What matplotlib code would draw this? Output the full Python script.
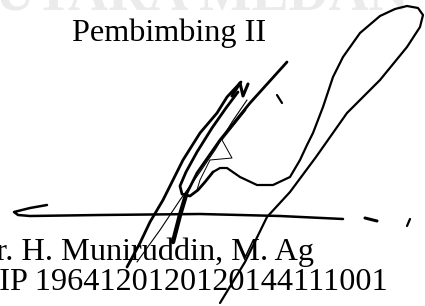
import matplotlib
matplotlib.use("Agg")
import matplotlib.pyplot as plt
import numpy as np

# ---- text content ----
title_text = "Pembimbing II"
name_text = "Dr. H. Muniruddin, M. Ag"
nip_text = "NIP 1964120120120144111001"
watermark_text = "UTARA MEDAN"

# ---- signature strokes (image pixel coordinates, y downward) ----
loop_x = [213, 220, 227, 240, 257, 273, 290, 300, 307, 313, 323, 333, 343, 360, 380, 395, 407, 418, 423, 420, 407, 380, 347, 316, 290, 267, 245, 220]
loop_y = [172, 168, 168, 177, 185, 185, 177, 160, 145, 133, 107, 77, 57, 33, 16, 9, 6, 8, 15, 27, 47, 80, 113, 157, 192, 217, 262, 303]

lineA_x = [287, 250, 220, 197, 186, 180, 173]
lineA_y = [62, 103, 140, 173, 195, 215, 242]

lineB_x = [241, 227, 217, 200, 183, 163, 150, 140, 127]
lineB_y = [82, 97, 113, 133, 160, 200, 222, 243, 267]

innerloop_x = [238, 226, 212, 197, 186, 180, 182, 190, 198, 205, 213]
innerloop_y = [92, 108, 128, 152, 172, 186, 194, 196, 190, 182, 172]

thin_x = [247, 232, 215, 200, 180, 160, 137]
thin_y = [100, 122, 150, 172, 200, 230, 262]

zig_x = [246, 222, 232, 210, 200, 197]
zig_y = [110, 140, 158, 160, 180, 190]

nglyph_x = [232, 240, 243, 248]
nglyph_y = [96, 83, 96, 84]

hline_x = [47, 30, 14, 18, 30, 100, 200, 280, 343]
hline_y = [205, 208, 212, 215, 216, 215, 214, 216, 219]

dash1_x = [365, 377]
dash1_y = [218, 221]
dash2_x = [410, 407]
dash2_y = [219, 226]
tick_x = [277, 282]
tick_y = [95, 103]

fig = plt.figure(figsize=(4.25, 3.06), dpi=100)
ax = fig.add_axes([0, 0, 1, 1])
ax.set_xlim(0, 425)
ax.set_ylim(306, 0)
ax.axis("off")

serif = ["Liberation Serif", "DejaVu Serif"]

# watermark (only its bottom edge shows at the top of the picture)
ax.text(-5, 9, watermark_text, fontsize=40, fontweight="bold", family=serif,
        color="#ebebeb", ha="left", va="baseline", zorder=0)

fs = 23.2
ax.text(72, 41, title_text, fontsize=fs, family=serif, color="black",
        ha="left", va="baseline", zorder=2)
ax.text(314, 260, name_text, fontsize=fs, family=serif, color="black",
        ha="right", va="baseline", zorder=2)
ax.text(388, 290, nip_text, fontsize=fs, family=serif, color="black",
        ha="right", va="baseline", zorder=2)

kw = dict(color="black", solid_capstyle="round", solid_joinstyle="round", zorder=3)
ax.plot(loop_x, loop_y, lw=1.6, **kw)
ax.plot(lineA_x, lineA_y, lw=2.0, **kw)
ax.plot(lineA_x[-3:], lineA_y[-3:], lw=3.2, **kw)
ax.plot(lineB_x, lineB_y, lw=2.0, **kw)
ax.plot(innerloop_x, innerloop_y, lw=2.0, **kw)
ax.plot(thin_x, thin_y, lw=0.8, **kw)
ax.plot(zig_x, zig_y, lw=0.7, **kw)
ax.plot(nglyph_x, nglyph_y, lw=2.2, **kw)
ax.plot(hline_x, hline_y, lw=1.8, **kw)
ax.plot(dash1_x, dash1_y, lw=2.2, **kw)
ax.plot(dash2_x, dash2_y, lw=1.6, **kw)
ax.plot(tick_x, tick_y, lw=1.6, **kw)

fig.savefig("out.png", dpi=100)
